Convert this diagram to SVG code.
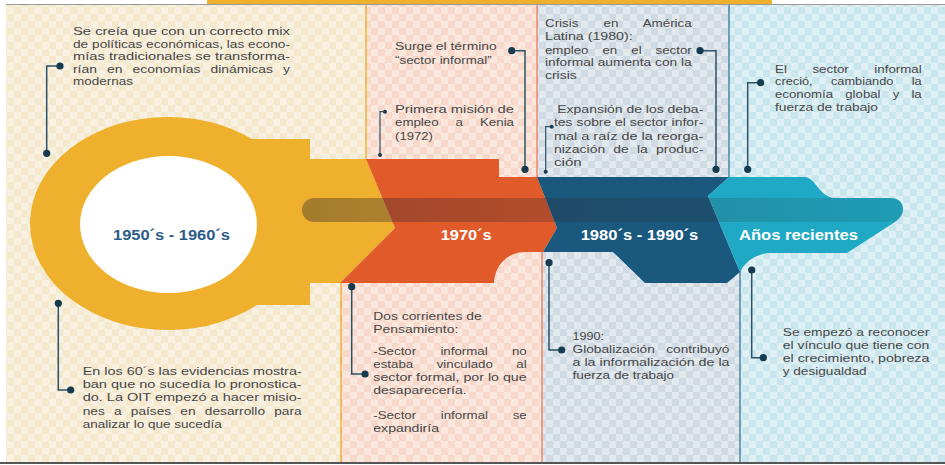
<svg xmlns="http://www.w3.org/2000/svg" width="945" height="465" viewBox="0 0 945 465">
<defs>
<style>
.t{font-family:"Liberation Sans",Arial,sans-serif;font-size:11px;fill:#474747}
.h{font-family:"Liberation Sans",Arial,sans-serif;font-size:14px;font-weight:bold;fill:#fff}
.ln{fill:none;stroke:#2b5268;stroke-width:1.5}
.dot{fill:#163a50}
.b1{stroke:#f0b13a;stroke-width:1.5}
.b2{stroke:#ea8a6a;stroke-width:1.5}
.b3{stroke:#4a86a6;stroke-width:1.5}
</style>
<pattern id="chk" width="14" height="14" patternUnits="userSpaceOnUse">
<rect width="7" height="7" fill="#fff" opacity="0.4"/>
<rect x="7" y="7" width="7" height="7" fill="#fff" opacity="0.4"/>
</pattern>
<linearGradient id="band" gradientUnits="userSpaceOnUse" x1="302" y1="0" x2="903" y2="0">
<stop offset="0" stop-color="#2a2630" stop-opacity="0.38"/>
<stop offset="1" stop-color="#2a2630" stop-opacity="0.1"/>
</linearGradient>
</defs>

<rect width="945" height="465" fill="#fff"/>
<g id="background">
<path d="M6 5H366V230H341V462H6Z" fill="#f4e8cd"/>
<path d="M366 5H537V230H542V462H341V230H366Z" fill="#f7d8ca"/>
<path d="M537 5H729V230H740V462H542V230H537Z" fill="#cfdae3"/>
<path d="M729 5H945V462H740V230H729Z" fill="#c9e6ed"/>
<rect x="6" y="5" width="939" height="457" fill="url(#chk)"/>
<line class="b1" x1="366" y1="5" x2="366" y2="160"/>
<line class="b1" x1="341" y1="282" x2="341" y2="462"/>
<line class="b2" x1="537" y1="5" x2="537" y2="178"/>
<line class="b2" x1="542" y1="251" x2="542" y2="462"/>
<line class="b3" x1="729" y1="5" x2="729" y2="178"/>
<line class="b3" x1="740" y1="271" x2="740" y2="462"/>
<line x1="6" y1="4.5" x2="945" y2="4.5" stroke="#9a9a9a" stroke-width="1"/>
<rect x="207" y="0" width="565" height="4" fill="#efb02d"/>
<line x1="0" y1="463" x2="945" y2="463" stroke="#555" stroke-width="2"/>
</g>

<g id="era-1950">
<ellipse cx="168" cy="223.5" rx="138" ry="106.5" fill="#efb02d"/>
<path d="M200 139H310V159H366L395 228L340 283H310V305H200Z" fill="#efb02d"/>
<ellipse cx="168.5" cy="224.5" rx="88.5" ry="68.5" fill="#fff"/>
<text class="h" x="113" y="240" textLength="117" lengthAdjust="spacingAndGlyphs" style="fill:#2c5d87">1950´s - 1960´s</text>
</g>

<g id="era-1970">
<path d="M366 159H499V177H537L557 228L543 252H525A31 31 0 0 0 494 283H340L395 228Z" fill="#e15a2a"/>
</g>

<g id="era-1980">
<path d="M537 177H729L708 196L740 272L727 283H645L613 252H543L557 228Z" fill="#1a587d"/>
</g>

<g id="era-recent">
<path d="M729 177H805C815 177 820 198 835 198H890Q903 198 903 210Q903 216 895 222L847 253H768Q748 256 740 272L708 196Z" fill="#1fa9c4"/>
</g>

<rect id="shaft" x="302" y="198" width="601" height="24" rx="12" fill="url(#band)"/>

<g id="era-labels">
<text class="h" x="440.7" y="240" textLength="51" lengthAdjust="spacingAndGlyphs">1970´s</text>
<text class="h" x="580.7" y="240" textLength="117.6" lengthAdjust="spacingAndGlyphs">1980´s - 1990´s</text>
<text class="h" x="739" y="240" textLength="119" lengthAdjust="spacingAndGlyphs">Años recientes</text>
</g>

<g id="connectors">
<path class="ln" d="M60 66H46.7V153.3"/>
<circle class="dot" cx="60" cy="66" r="3.6"/><circle class="dot" cx="46.7" cy="153.3" r="3.6"/>
<path class="ln" d="M58.3 303.3V390H70.7"/>
<circle class="dot" cx="58.3" cy="303.3" r="3.6"/><circle class="dot" cx="70.7" cy="390" r="3.6"/>
<path class="ln" d="M511.7 50.7H525V169.3"/>
<circle class="dot" cx="511.7" cy="50.7" r="3.6"/><circle class="dot" cx="525" cy="169.3" r="3.6"/>
<path class="ln" d="M385 111.7H380V155" style="stroke-width:1.2"/>
<circle class="dot" cx="385" cy="111.7" r="2"/><circle class="dot" cx="380" cy="155" r="2"/>
<path class="ln" d="M700 50.7H716V169.3"/>
<circle class="dot" cx="700" cy="50.7" r="3.6"/><circle class="dot" cx="716" cy="169.3" r="3.6"/>
<path class="ln" d="M551.7 126.7H545.7V171.7" style="stroke-width:1.2"/>
<circle class="dot" cx="551.7" cy="126.7" r="2"/><circle class="dot" cx="545.7" cy="171.7" r="2"/>
<path class="ln" d="M351.7 286.7V374H365"/>
<circle class="dot" cx="351.7" cy="286.7" r="3.6"/><circle class="dot" cx="365" cy="374" r="3.6"/>
<path class="ln" d="M549 262.7V350H561.7"/>
<circle class="dot" cx="549" cy="262.7" r="3.6"/><circle class="dot" cx="561.7" cy="350" r="3.6"/>
<path class="ln" d="M760.7 82.7H747.7V169.3"/>
<circle class="dot" cx="760.7" cy="82.7" r="3.6"/><circle class="dot" cx="747.7" cy="169.3" r="3.6"/>
<path class="ln" d="M751.7 270V357.7H763.3"/>
<circle class="dot" cx="751.7" cy="270" r="3.6"/><circle class="dot" cx="763.3" cy="357.7" r="3.6"/>
</g>

<g id="note-1950-top">
<text class="t" x="73" y="35" textLength="217" lengthAdjust="spacingAndGlyphs">Se creía que con un correcto mix</text>
<text class="t" x="73" y="47.6" textLength="217" lengthAdjust="spacingAndGlyphs">de políticas económicas, las econo-</text>
<text class="t" x="73" y="60.2" textLength="217" lengthAdjust="spacingAndGlyphs">mías tradicionales se transforma-</text>
<text class="t" x="73" y="72.8" textLength="217" lengthAdjust="spacingAndGlyphs" word-spacing="5">rían en economías dinámicas y</text>
<text class="t" x="73" y="85.4" textLength="60" lengthAdjust="spacingAndGlyphs">modernas</text>
</g>

<g id="note-1950-bottom">
<text class="t" x="82.7" y="375" textLength="219" lengthAdjust="spacingAndGlyphs">En los 60´s las evidencias mostra-</text>
<text class="t" x="82.7" y="388.2" textLength="219" lengthAdjust="spacingAndGlyphs">ban que no sucedía lo pronostica-</text>
<text class="t" x="82.7" y="401.4" textLength="219" lengthAdjust="spacingAndGlyphs">do. La OIT empezó a hacer misio-</text>
<text class="t" x="82.7" y="414.6" textLength="219" lengthAdjust="spacingAndGlyphs" word-spacing="4.3">nes a países en desarrollo para</text>
<text class="t" x="82.7" y="427.8" textLength="139" lengthAdjust="spacingAndGlyphs">analizar lo que sucedía</text>
</g>

<g id="note-1970-term">
<text class="t" x="395" y="49.5" textLength="101.7" lengthAdjust="spacingAndGlyphs">Surge el término</text>
<text class="t" x="395" y="63.5" textLength="96.7" lengthAdjust="spacingAndGlyphs">“sector informal”</text>
</g>

<g id="note-1970-kenia">
<text class="t" x="395" y="113" textLength="119" lengthAdjust="spacingAndGlyphs">Primera misión de</text>
<text class="t" x="395" y="126.4" textLength="119" lengthAdjust="spacingAndGlyphs" word-spacing="11">empleo a Kenia</text>
<text class="t" x="395" y="139.8" textLength="38" lengthAdjust="spacingAndGlyphs">(1972)</text>
</g>

<g id="note-1970-bottom">
<text class="t" x="373.3" y="320" textLength="108.4" lengthAdjust="spacingAndGlyphs">Dos corrientes de</text>
<text class="t" x="373.3" y="333" textLength="85" lengthAdjust="spacingAndGlyphs">Pensamiento:</text>
<text class="t" x="373.3" y="354.5" textLength="153.4" lengthAdjust="spacingAndGlyphs" word-spacing="17">-Sector informal no</text>
<text class="t" x="373.3" y="367.5" textLength="153.4" lengthAdjust="spacingAndGlyphs" word-spacing="16.4">estaba vinculado al</text>
<text class="t" x="373.3" y="380.5" textLength="153.4" lengthAdjust="spacingAndGlyphs">sector formal, por lo que</text>
<text class="t" x="373.3" y="393.8" textLength="93.4" lengthAdjust="spacingAndGlyphs">desaparecería.</text>
<text class="t" x="373.3" y="419" textLength="153.4" lengthAdjust="spacingAndGlyphs" word-spacing="17.3">-Sector informal se</text>
<text class="t" x="373.3" y="432.4" textLength="65.7" lengthAdjust="spacingAndGlyphs">expandiría</text>
</g>

<g id="note-1980-crisis">
<text class="t" x="545" y="27" textLength="146.7" lengthAdjust="spacingAndGlyphs" word-spacing="17.6">Crisis en América</text>
<text class="t" x="545" y="40.3" textLength="87.7" lengthAdjust="spacingAndGlyphs">Latina (1980):</text>
<text class="t" x="545" y="53.5" textLength="146.7" lengthAdjust="spacingAndGlyphs" word-spacing="8.6">empleo en el sector</text>
<text class="t" x="545" y="66.3" textLength="146.7" lengthAdjust="spacingAndGlyphs">informal aumenta con la</text>
<text class="t" x="545" y="79" textLength="31.7" lengthAdjust="spacingAndGlyphs">crisis</text>
</g>

<g id="note-1980-debates">
<text class="t" x="557.3" y="113" textLength="146" lengthAdjust="spacingAndGlyphs">Expansión de los deba-</text>
<text class="t" x="554" y="126.3" textLength="149.3" lengthAdjust="spacingAndGlyphs">tes sobre el sector infor-</text>
<text class="t" x="554" y="139.6" textLength="149.3" lengthAdjust="spacingAndGlyphs">mal a raíz de la reorga-</text>
<text class="t" x="554" y="152.9" textLength="149.3" lengthAdjust="spacingAndGlyphs" word-spacing="3.4">nización de la produc-</text>
<text class="t" x="554" y="166.2" textLength="27.7" lengthAdjust="spacingAndGlyphs">ción</text>
</g>

<g id="note-1990">
<text class="t" x="572.5" y="340" textLength="31.6" lengthAdjust="spacingAndGlyphs">1990:</text>
<text class="t" x="572.5" y="353" textLength="157" lengthAdjust="spacingAndGlyphs" word-spacing="6">Globalización contribuyó</text>
<text class="t" x="572.5" y="366.2" textLength="157" lengthAdjust="spacingAndGlyphs">a la informalización de la</text>
<text class="t" x="572.5" y="379" textLength="101.6" lengthAdjust="spacingAndGlyphs">fuerza de trabajo</text>
</g>

<g id="note-recent-top">
<text class="t" x="775" y="72.5" textLength="146.7" lengthAdjust="spacingAndGlyphs" word-spacing="18.1">El sector informal</text>
<text class="t" x="775" y="85.3" textLength="146.7" lengthAdjust="spacingAndGlyphs" word-spacing="12.7">creció, cambiando la</text>
<text class="t" x="775" y="98.1" textLength="146.7" lengthAdjust="spacingAndGlyphs" word-spacing="7">economía global y la</text>
<text class="t" x="775" y="110.9" textLength="103" lengthAdjust="spacingAndGlyphs">fuerza de trabajo</text>
</g>

<g id="note-recent-bottom">
<text class="t" x="782.7" y="336" textLength="146.6" lengthAdjust="spacingAndGlyphs">Se empezó a reconocer</text>
<text class="t" x="782.7" y="348.9" textLength="146.6" lengthAdjust="spacingAndGlyphs">el vínculo que tiene con</text>
<text class="t" x="782.7" y="361.7" textLength="146.6" lengthAdjust="spacingAndGlyphs">el crecimiento, pobreza</text>
<text class="t" x="782.7" y="374.5" textLength="84" lengthAdjust="spacingAndGlyphs">y desigualdad</text>
</g>
</svg>
